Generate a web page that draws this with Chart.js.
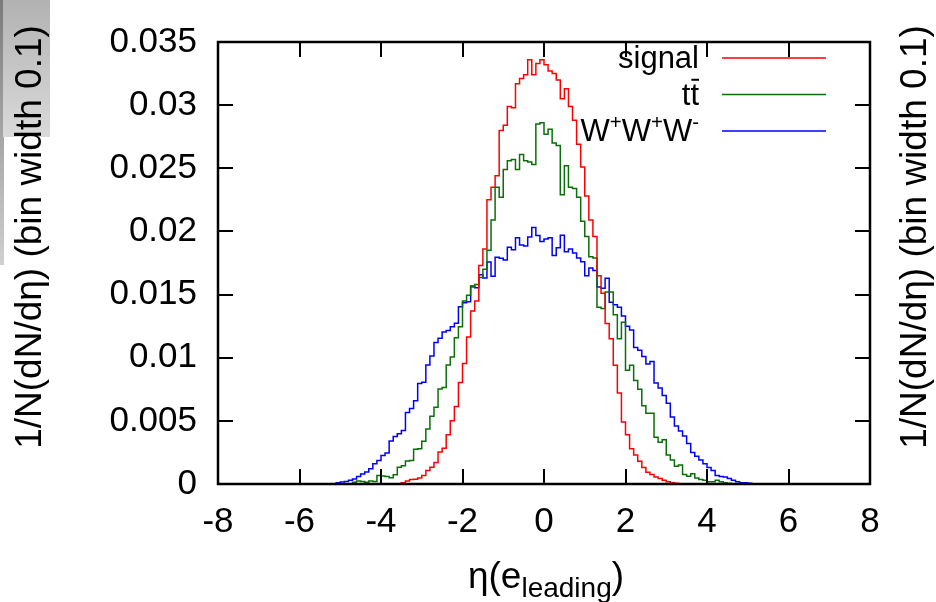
<!DOCTYPE html>
<html>
<head>
<meta charset="utf-8">
<script src="https://cdn.jsdelivr.net/npm/chart.js@4.4.0/dist/chart.umd.min.js"></script>
<style>
  html, body { margin: 0; padding: 0; background: #fff; }
  #wrap { position: relative; width: 936px; height: 602px; }
</style>
</head>
<body>
<div id="wrap"><canvas id="eta" width="936" height="602"></canvas></div>
<script>
/* eta(e_leading) distributions, bin width 0.1
   values below are per-bin fractions in units of 1e-3 */

const BIN = 0.1;
const seriesLabels = ['signal', 'tt\u0304', 'W\u207AW\u207AW\u207B'];
const seriesColors = ['#ff0000', '#0b6e0b', '#0000ff'];

// signal: first bin starts at eta = -3.5
const signalStart = -3.5;
const signalVals = [
  0.05, 0.1, 0.23, 0.35, 0.38,
  0.48, 0.68, 1.06, 1.32, 1.70, 2.53, 2.84, 3.9, 5.0, 6.13,
  8.03, 9.54, 11.65, 13.7, 14.5, 17.3, 18.6, 22.5, 23.5, 24.4,
  28.0, 28.4, 29.9, 29.8, 31.7, 32.1, 32.4, 33.6, 32.4, 33.3,
  33.6, 33.2, 32.7, 32.5, 32.0, 30.5, 31.3, 29.9, 28.8, 26.9,
  25.1, 22.8, 20.9, 19.6, 16.5, 15.1, 12.7, 11.5, 9.4, 7.2,
  4.9, 3.9, 2.8, 2.3, 1.8, 1.3, 0.94, 0.76, 0.56, 0.43,
  0.30, 0.18, 0.1, 0.05
];

// ttbar: first bin starts at eta = -4.7
const ttbarStart = -4.7;
const ttbarVals = [
  0.1, 0.13, 0.23, 0.2, 0.13, 0.23, 0.2,
  0.68, 0.63, 0.6, 0.5, 0.73, 1.32, 1.44, 1.82, 1.87, 2.76,
  2.79, 3.39, 4.36, 5.37, 6.08, 7.52, 7.65, 9.42, 10.06, 11.58,
  12.46, 14.49, 14.94, 15.6, 15.8, 16.35, 17.0, 18.5, 20.9, 23.5,
  22.7, 24.9, 25.6, 25.7, 24.9, 26.1, 25.6, 25.5, 25.3, 28.5,
  28.6, 27.7, 28.1, 27.0, 26.8, 22.9, 25.2, 23.5, 23.4, 22.7,
  20.8, 19.6, 18.0, 17.9, 14.0, 13.9, 15.2, 15.2, 13.4, 11.5,
  12.8, 9.0, 9.4, 8.2, 7.5, 6.2, 5.6, 5.6, 3.7, 3.3,
  3.5, 2.3, 1.9, 1.4, 1.5, 0.76, 0.61, 0.81, 0.48, 0.35,
  0.30, 0.18, 0.18, 0.3, 0.18, 0.1, 0.05
];

// W+W+W-: first bin starts at eta = -5.1
const wwwStart = -5.1;
const wwwVals = [
  0.05, 0.1, 0.15, 0.2, 0.3, 0.4, 0.6, 0.8, 0.95, 1.2, 1.6,
  1.87, 2.25, 2.46, 3.4, 3.77, 3.98, 4.23, 5.67, 5.98, 6.59,
  7.95, 8.05, 9.42, 10.13, 11.2, 11.55, 12.03, 12.16, 12.46, 12.72,
  14.03, 14.36, 14.44, 15.68, 15.55, 16.57, 16.31, 17.58, 16.46, 17.96,
  17.88, 17.73, 18.74, 18.54, 19.5, 18.92, 18.84, 19.55, 20.31, 19.68,
  19.2, 19.4, 19.5, 18.1, 18.7, 19.7, 18.4, 18.6, 18.3, 17.9,
  17.6, 16.5, 17.1, 16.9, 15.6, 15.5, 16.3, 14.4, 14.2, 14.0,
  13.3, 12.5, 12.2, 10.8, 10.6, 10.1, 9.5, 9.7, 8.0, 7.6,
  7.0, 6.4, 5.3, 4.6, 4.2, 3.8, 3.2, 2.5, 2.2, 1.9,
  1.6, 1.3, 1.06, 0.68, 0.6, 0.56, 0.43, 0.3, 0.18, 0.1,
  0.1, 0.05
];

const xTicks = [-8, -6, -4, -2, 0, 2, 4, 6, 8];
const yTicks = [0, 0.005, 0.01, 0.015, 0.02, 0.025, 0.03, 0.035];

const FONT = '"Liberation Sans", Arial, Helvetica, sans-serif';

// histogram outline: one point per bin left edge, closed to the baseline
function histPoints(start, vals) {
  const pts = [{ x: start, y: 0 }];
  vals.forEach((v, i) => pts.push({ x: +(start + i * BIN).toFixed(2), y: v / 1000 }));
  pts.push({ x: +(start + vals.length * BIN).toFixed(2), y: 0 });
  return pts;
}

// split a label into glyph runs, handling superscript +/- and combining overbar
function richParts(label, size) {
  const parts = [];
  for (const ch of label) {
    if (ch === '\u0304') { parts[parts.length - 1].bar = true; continue; }
    if (ch === '\u207A' || ch === '\u207B') {
      parts.push({ t: ch === '\u207A' ? '+' : '-', size: size * 0.66, dy: -size * 0.4 });
      continue;
    }
    parts.push({ t: ch, size: size, dy: 0 });
  }
  return parts;
}

function drawRich(ctx, parts, x, y, align) {
  let w = 0;
  parts.forEach((p) => {
    ctx.font = `${p.size}px ${FONT}`;
    p.w = ctx.measureText(p.t).width;
    w += p.w;
  });
  let cx = align === 'right' ? x - w : align === 'center' ? x - w / 2 : x;
  parts.forEach((p) => {
    ctx.font = `${p.size}px ${FONT}`;
    ctx.fillText(p.t, cx, y + (p.dy || 0));
    if (p.bar) {
      ctx.fillRect(cx + 1, y - p.size * 0.83, p.w - 1, 2);
    }
    cx += p.w;
  });
}

const backdrop = {
  id: 'backdrop',
  beforeDraw(chart) {
    const ctx = chart.ctx;
    ctx.save();
    ctx.fillStyle = '#ffffff';
    ctx.fillRect(0, 0, chart.width, chart.height);
    let g = ctx.createLinearGradient(0, 0, 0, 265);
    g.addColorStop(0, '#7a7a7a');
    g.addColorStop(1, '#d0d0d0');
    ctx.fillStyle = g;
    ctx.fillRect(0, 0, 4, 265);
    g = ctx.createLinearGradient(0, 0, 0, 137);
    g.addColorStop(0, '#b2b2b2');
    g.addColorStop(1, '#dadada');
    ctx.fillStyle = g;
    ctx.fillRect(3, 0, 47, 137);
    ctx.restore();
  },
};

const frameAndText = {
  id: 'frameAndText',
  afterDraw(chart) {
    const ctx = chart.ctx;
    const a = chart.chartArea;
    const xs = chart.scales.x;
    const ys = chart.scales.y;
    const TL = 15;
    ctx.save();
    ctx.strokeStyle = '#000';
    ctx.fillStyle = '#000';
    ctx.lineWidth = 2;
    ctx.beginPath();
    xTicks.forEach((t) => {
      const px = Math.round(xs.getPixelForValue(t));
      ctx.moveTo(px, a.bottom); ctx.lineTo(px, a.bottom - TL);
      ctx.moveTo(px, a.top); ctx.lineTo(px, a.top + TL);
    });
    yTicks.forEach((t) => {
      const py = Math.round(ys.getPixelForValue(t));
      ctx.moveTo(a.left, py); ctx.lineTo(a.left + TL, py);
      ctx.moveTo(a.right, py); ctx.lineTo(a.right - TL, py);
    });
    ctx.stroke();
    ctx.lineWidth = 2.5;
    ctx.strokeRect(a.left, a.top, a.right - a.left, a.bottom - a.top);

    // legend, right-aligned text with a line sample
    chart.data.datasets.forEach((ds, i) => {
      const ly = 58 + i * 36.5;
      ctx.strokeStyle = ds.borderColor;
      ctx.lineWidth = 1.5;
      ctx.beginPath();
      ctx.moveTo(722, ly); ctx.lineTo(826, ly);
      ctx.stroke();
      ctx.fillStyle = '#000';
      ctx.textBaseline = 'alphabetic';
      drawRich(ctx, richParts(ds.label, 31), 699, ly + 10, 'right');
    });

    // axis titles
    ctx.fillStyle = '#000';
    ctx.textBaseline = 'middle';
    ctx.textAlign = 'center';
    ctx.font = `37px ${FONT}`;
    const yTitle = '1/N(dN/d\u03B7) (bin width 0.1)';
    [31, 916].forEach((cx) => {
      ctx.save();
      ctx.translate(cx, 237);
      ctx.rotate(-Math.PI / 2);
      ctx.fillText(yTitle, 0, 0);
      ctx.restore();
    });
    ctx.textAlign = 'left';
    ctx.textBaseline = 'alphabetic';
    drawRich(ctx, [
      { t: '\u03B7(e', size: 37, dy: 0 },
      { t: 'leading', size: 28, dy: 9 },
      { t: ')', size: 37, dy: 0 },
    ], 546, 588, 'center');
    ctx.restore();
  },
};

const datasets = [
  [signalStart, signalVals],
  [ttbarStart, ttbarVals],
  [wwwStart, wwwVals],
].map(([start, vals], i) => ({
  label: seriesLabels[i],
  data: histPoints(start, vals),
  borderColor: seriesColors[i],
  borderWidth: 1.5,
  pointRadius: 0,
  stepped: 'after',
  fill: false,
}));

new Chart(document.getElementById('eta'), {
  type: 'line',
  data: { datasets },
  plugins: [backdrop, frameAndText],
  options: {
    responsive: false,
    animation: false,
    layout: { padding: { left: 0, top: 23, right: 66, bottom: 0 } },
    plugins: { legend: { display: false }, tooltip: { enabled: false } },
    scales: {
      x: {
        type: 'linear',
        min: -8,
        max: 8,
        afterFit: (s) => { s.height = 118; },
        afterBuildTicks: (s) => { s.ticks = xTicks.map((v) => ({ value: v })); },
        grid: { display: false, drawTicks: false },
        border: { display: false },
        ticks: {
          color: '#000',
          padding: 17,
          maxRotation: 0,
          font: { family: FONT, size: 35 },
          callback: (v) => String(v),
        },
      },
      y: {
        type: 'linear',
        min: 0,
        max: 0.035,
        afterFit: (s) => { s.width = 218; },
        afterBuildTicks: (s) => { s.ticks = yTicks.map((v) => ({ value: v })); },
        grid: { display: false, drawTicks: false },
        border: { display: false },
        ticks: {
          color: '#000',
          padding: 21,
          font: { family: FONT, size: 35 },
          callback: (v) => String(parseFloat(v.toFixed(4))),
        },
      },
    },
  },
});
</script>
</body>
</html>
